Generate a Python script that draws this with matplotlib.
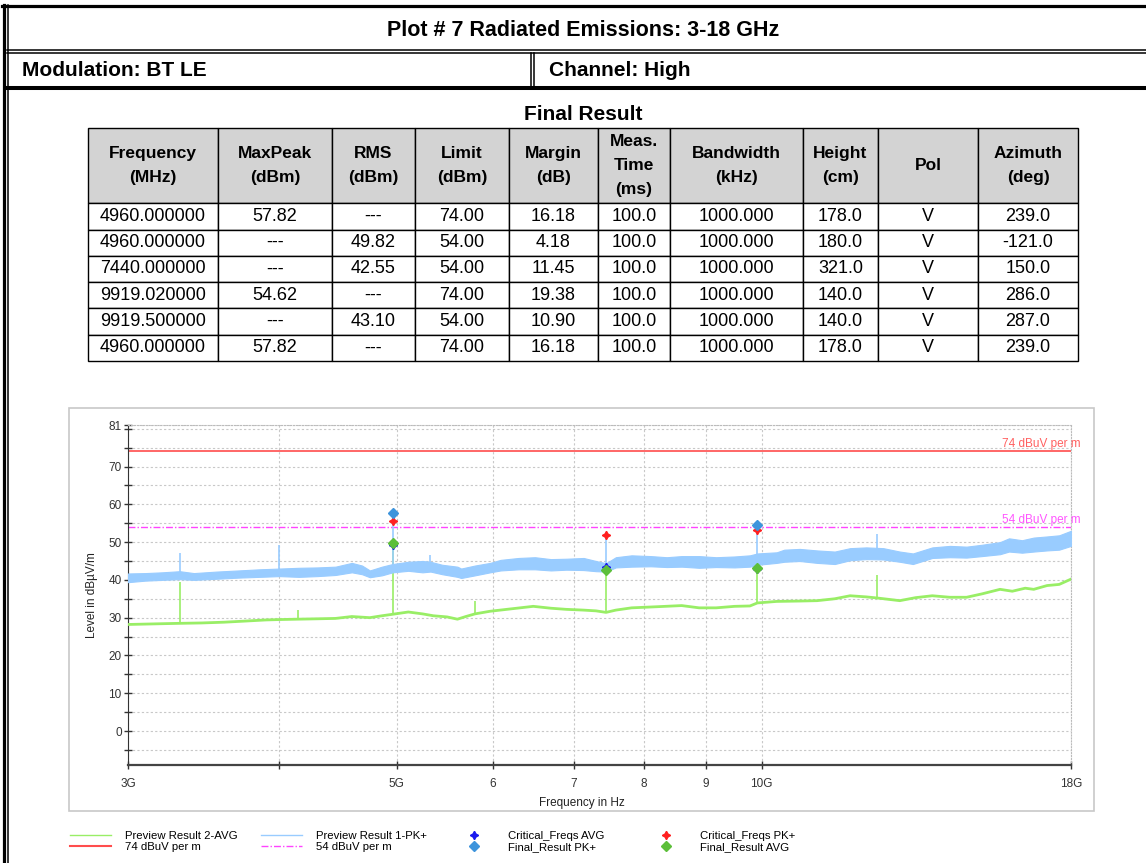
import numpy as np
import matplotlib.pyplot as plt
from matplotlib.lines import Line2D
from matplotlib.patches import Rectangle

plt.rcParams['font.family'] = ['Liberation Sans', 'DejaVu Sans']

# ---- table data (Final Result) ----
headers = ['Frequency\n(MHz)', 'MaxPeak\n(dBm)', 'RMS\n(dBm)', 'Limit\n(dBm)', 'Margin\n(dB)',
           'Meas.\nTime\n(ms)', 'Bandwidth\n(kHz)', 'Height\n(cm)', 'Pol', 'Azimuth\n(deg)']
freq_mhz = ['4960.000000', '4960.000000', '7440.000000', '9919.020000', '9919.500000', '4960.000000']
maxpeak = ['57.82', '---', '---', '54.62', '---', '57.82']
rms = ['---', '49.82', '42.55', '---', '43.10', '---']
limit = ['74.00', '54.00', '54.00', '74.00', '54.00', '74.00']
margin = ['16.18', '4.18', '11.45', '19.38', '10.90', '16.18']
meas_time = ['100.0'] * 6
bandwidth = ['1000.000'] * 6
height = ['178.0', '180.0', '321.0', '140.0', '140.0', '178.0']
pol = ['V'] * 6
azimuth = ['239.0', '-121.0', '150.0', '286.0', '287.0', '239.0']

# ---- preview traces (GHz, dBuV/m) ----
pk_f = [3.00, 3.10, 3.20, 3.31, 3.40, 3.55, 3.70, 3.85, 4.00, 4.15, 4.30, 4.45, 4.59, 4.68,
        4.75, 4.86, 4.96, 5.11, 5.25, 5.33, 5.45, 5.61, 5.65, 5.80, 5.97, 6.09, 6.30, 6.50,
        6.70, 6.90, 7.13, 7.30, 7.44, 7.58, 7.81, 8.10, 8.35, 8.59, 8.88, 9.17, 9.50, 9.78,
        9.92, 10.29, 10.44, 10.75, 11.11, 11.49, 11.83, 12.20, 12.60, 13.00, 13.33, 13.83,
        14.30, 14.76, 15.20, 15.73, 16.00, 16.40, 16.77, 17.20, 17.60, 18.00]
pk_lo = [39.4, 39.8, 40.0, 40.2, 40.0, 40.3, 40.6, 40.8, 41.0, 40.8, 41.0, 41.3, 42.0, 41.5,
         40.7, 41.2, 42.0, 42.4, 42.0, 42.2, 41.5, 40.8, 40.5, 41.2, 42.0, 42.5, 42.8, 42.8,
         42.5, 42.7, 42.6, 42.3, 42.2, 43.3, 43.5, 43.6, 43.4, 43.5, 43.2, 43.4, 43.3, 43.5,
         44.0, 44.5, 44.8, 45.0, 44.5, 44.2, 45.2, 45.5, 45.4, 44.8, 44.2, 45.8,
         46.0, 45.9, 46.3, 46.8, 47.5, 47.2, 47.5, 47.8, 48.0, 49.0]
pk_hi = [41.7, 41.8, 42.0, 42.3, 41.8, 42.2, 42.5, 42.8, 43.0, 43.2, 43.3, 43.5, 44.5, 43.8,
         42.5, 43.5, 44.2, 44.8, 45.0, 44.8, 44.0, 43.5, 43.0, 43.8, 44.5, 45.3, 45.8, 46.0,
         45.5, 45.6, 45.8, 45.0, 44.4, 46.0, 46.5, 46.3, 46.0, 46.3, 46.3, 46.0, 46.2, 46.5,
         47.0, 47.3, 48.0, 48.2, 47.8, 47.5, 48.4, 48.6, 48.4, 47.5, 47.0, 48.6,
         49.0, 48.8, 49.3, 50.0, 51.0, 50.5, 51.2, 51.5, 51.8, 53.0]
pk_spike_f = [3.31, 4.00, 5.33, 12.46, 4.96, 7.44, 9.92]
pk_spike_lo = [41.0, 42.0, 43.0, 46.0, 43.0, 43.5, 45.5]
pk_spike_hi = [47.0, 49.3, 46.5, 52.1, 55.5, 51.8, 53.3]

avg_f = [3.00, 3.10, 3.20, 3.31, 3.45, 3.60, 3.75, 3.90, 4.00, 4.14, 4.30, 4.45, 4.59, 4.75,
         4.86, 4.96, 5.11, 5.25, 5.36, 5.50, 5.61, 5.70, 5.80, 5.97, 6.20, 6.48, 6.70, 6.90,
         7.13, 7.30, 7.44, 7.58, 7.81, 8.20, 8.59, 8.88, 9.17, 9.50, 9.78, 9.92, 10.29, 10.75,
         11.11, 11.49, 11.83, 12.20, 12.46, 13.00, 13.40, 13.83, 14.30, 14.76, 15.20, 15.73,
         16.10, 16.50, 16.77, 17.20, 17.60, 18.00]
avg_lvl = [28.2, 28.3, 28.4, 28.5, 28.6, 28.8, 29.1, 29.4, 29.5, 29.6, 29.7, 29.8, 30.3, 30.0,
           30.5, 30.9, 31.5, 31.0, 30.5, 30.2, 29.6, 30.3, 31.0, 31.7, 32.3, 33.0, 32.5, 32.2,
           32.0, 31.8, 31.4, 32.0, 32.6, 32.9, 33.2, 32.6, 32.6, 33.0, 33.1, 33.9, 34.3, 34.4,
           34.5, 35.0, 35.8, 35.5, 35.2, 34.5, 35.3, 35.8, 35.4, 35.4, 36.3, 37.5,
           37.0, 37.8, 37.5, 38.5, 38.8, 40.2]
avg_spike_f = [3.31, 4.14, 5.80, 12.46, 4.96, 7.44, 9.92]
avg_spike_lo = [28.5, 29.6, 31.0, 35.2, 30.9, 31.4, 33.9]
avg_spike_hi = [39.5, 32.0, 34.5, 41.2, 49.8, 42.5, 43.1]

crit_f = [4.96, 7.44, 9.92]
crit_avg = [49.3, 43.5, 43.0]
crit_pk = [55.5, 51.8, 53.3]

W, H = 1146, 863
fig = plt.figure(figsize=(W / 100, H / 100), dpi=100)
bg = fig.add_axes([0, 0, 1, 1])
bg.set_xlim(0, W)
bg.set_ylim(H, 0)
bg.axis('off')

# page frame
bg.plot([2, W], [6.5, 6.5], color='k', lw=2.3)
bg.plot([7, W], [50.5, 50.5], color='k', lw=1.1)
bg.plot([7, W], [53.5, 53.5], color='k', lw=1.1)
bg.plot([7, W], [88, 88], color='k', lw=2.9)
bg.plot([3.5, 3.5], [5, H], color='k', lw=2.3)
bg.plot([8, 8], [5, H], color='k', lw=1.1)
bg.plot([531, 531], [53, 87], color='k', lw=1.1)
bg.plot([534, 534], [53, 87], color='k', lw=1.1)

bg.text(583, 31, 'Plot # 7 Radiated Emissions: 3-18 GHz', ha='center', va='center',
        fontsize=15.5, fontweight='bold')
bg.text(22, 71, 'Modulation: BT LE', ha='left', va='center', fontsize=15, fontweight='bold')
bg.text(549, 71, 'Channel: High', ha='left', va='center', fontsize=15, fontweight='bold')
bg.text(583, 115, 'Final Result', ha='center', va='center', fontsize=15, fontweight='bold')

# table
col_edges = [88, 218, 332, 415, 509, 598, 670, 803, 878, 978, 1078]
widths = np.diff(col_edges) / (col_edges[-1] - col_edges[0])
rows = list(zip(freq_mhz, maxpeak, rms, limit, margin, meas_time, bandwidth, height, pol, azimuth))
tb = bg.table(cellText=rows, colLabels=headers, colWidths=widths, cellLoc='center',
              bbox=[88 / W, 1 - 361 / H, 990 / W, 233 / H])
tb.auto_set_font_size(False)
tb.set_fontsize(13)
for (r, c), cell in tb.get_celld().items():
    cell.set_linewidth(1.0)
    if r == 0:
        cell.set_height(cell.get_height() * 2.86)
        cell.set_facecolor('#d3d3d3')
        cell.set_text_props(fontweight='bold', fontsize=12.5, linespacing=1.75)

# chart panel
bg.add_patch(Rectangle((69, 408), 1025, 403, fill=False, ec='#c8c8c8', lw=1.2))

ax = fig.add_axes([128 / W, 1 - 765 / H, 943 / W, 340 / H])
ax.set_xscale('log')
ax.set_xlim(3, 18)
ax.set_ylim(-9, 81)

pk_col = '#99ccff'
avg_col = '#99ee66'
ax.plot(avg_f, avg_lvl, color=avg_col, lw=2.0, zorder=3)
ax.vlines(avg_spike_f, avg_spike_lo, avg_spike_hi, color=avg_col, lw=1.2, zorder=3)
ax.fill_between(pk_f, pk_lo, pk_hi, color=pk_col, lw=0.8, ec=pk_col, zorder=3)
ax.vlines(pk_spike_f, pk_spike_lo, pk_spike_hi, color=pk_col, lw=1.2, zorder=3)

ax.axhline(74, color='#ff4d4d', lw=1.2, zorder=2)
ax.axhline(54, color='#ff44ff', lw=1.0, ls=(0, (5, 1.5, 1, 1.5)), zorder=2)
ax.annotate('74 dBuV per m', (18, 74), xytext=(7, 1), textcoords='offset points',
            ha='right', va='bottom', color='#ff6060', fontsize=8.5)
ax.annotate('54 dBuV per m', (18, 54), xytext=(7, 1), textcoords='offset points',
            ha='right', va='bottom', color='#ff55ff', fontsize=8.5)

# final results from the table
fin_pk_f = [float(f) / 1000 for f, p in zip(freq_mhz[:5], maxpeak[:5]) if p != '---']
fin_pk = [float(p) for p in maxpeak[:5] if p != '---']
fin_avg_f = [float(f) / 1000 for f, a in zip(freq_mhz[:5], rms[:5]) if a != '---']
fin_avg = [float(a) for a in rms[:5] if a != '---']

star = (4, 1, 0)
ax.plot(crit_f, crit_avg, ls='none', marker=star, ms=6, color='#1a1aee', zorder=5)
ax.plot(crit_f, crit_pk, ls='none', marker=star, ms=6, color='#ff2020', zorder=5)
ax.plot(fin_pk_f, fin_pk, ls='none', marker='D', ms=5.5, color='#3d94dc', zorder=6)
ax.plot(fin_avg_f, fin_avg, ls='none', marker='D', ms=5.5, color='#5cbf3a', zorder=6)

ax.minorticks_off()
ax.set_xticks([3, 4, 5, 6, 7, 8, 9, 10, 18],
              labels=['3G', '', '5G', '6', '7', '8', '9', '10G', '18G'])
ax.set_yticks([0, 10, 20, 30, 40, 50, 60, 70, 80, 81],
              labels=['0', '10', '20', '30', '40', '50', '60', '70', '', '81'])
ax.set_yticks(np.arange(-5, 80, 10), minor=True)
ax.grid(True, which='both', color='#c8c8c8', ls=(0, (2, 2)), lw=0.8)
ax.tick_params(which='both', direction='inout', length=6, width=1, colors='#333333',
               labelsize=8.5)
ax.tick_params(axis='y', pad=1.5)
ax.tick_params(axis='x', pad=6)
ax.spines['left'].set_color('#333333')
ax.spines['bottom'].set_color('#444444')
ax.spines['bottom'].set_linewidth(1.6)
for s in ['top', 'right']:
    ax.spines[s].set_color('#bbbbbb')
    ax.spines[s].set_linestyle(':')
ax.set_xlabel('Frequency in Hz', fontsize=8.5, color='#222222')
ax.xaxis.set_label_coords((582 - 128) / 943, -0.094)
ax.set_ylabel('Level in dBµV/m', fontsize=8.5, color='#222222')
ax.yaxis.set_label_coords(-0.032, 0.5)

# legend, four columns of two
h_avg = Line2D([], [], color=avg_col, lw=1)
h_74 = Line2D([], [], color='#ff4d4d', lw=1.5)
h_pk = Line2D([], [], color=pk_col, lw=1)
h_54 = Line2D([], [], color='#ff44ff', lw=1, ls=(0, (5, 1.5, 1, 1.5)))
h_ca = Line2D([], [], ls='none', marker=star, ms=6, color='#1a1aee')
h_fp = Line2D([], [], ls='none', marker='D', ms=5, color='#3d94dc')
h_cp = Line2D([], [], ls='none', marker=star, ms=6, color='#ff2020')
h_fa = Line2D([], [], ls='none', marker='D', ms=5, color='#5cbf3a')
groups = [([h_avg, h_74], ['Preview Result 2-AVG', '74 dBuV per m'], 70),
          ([h_pk, h_54], ['Preview Result 1-PK+', '54 dBuV per m'], 261),
          ([h_ca, h_fp], ['Critical_Freqs AVG', 'Final_Result PK+'], 453),
          ([h_cp, h_fa], ['Critical_Freqs PK+', 'Final_Result AVG'], 645)]
for hs, labs, x0 in groups:
    fig.legend(hs, labs, loc='upper left', bbox_to_anchor=(x0 / W, 1 - 831 / H),
               frameon=False, fontsize=8.2, handlelength=3.6, handletextpad=1.25,
               labelspacing=0.12, borderpad=0, borderaxespad=0)

fig.savefig('out.png', dpi=100)
